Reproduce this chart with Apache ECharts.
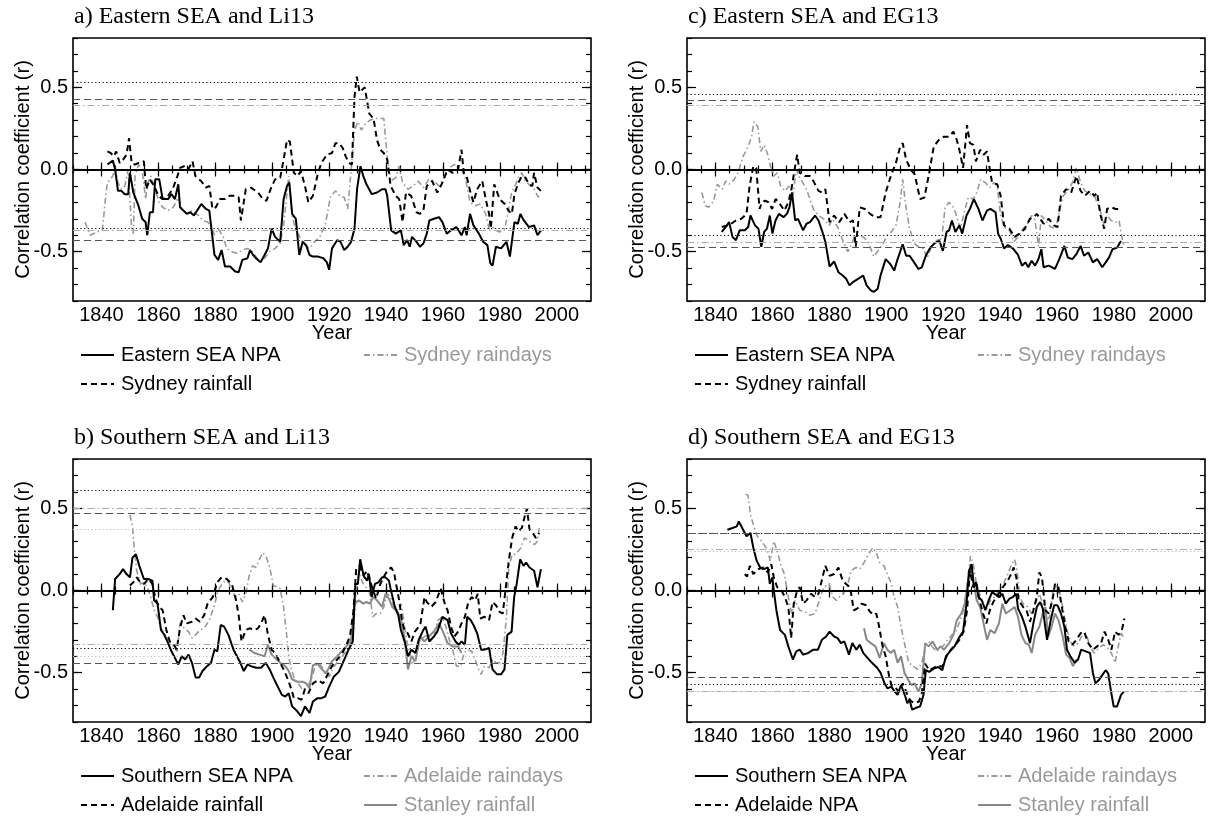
<!DOCTYPE html>
<html><head><meta charset="utf-8">
<script src="https://cdn.jsdelivr.net/npm/echarts@6/dist/echarts.min.js"></script>
<style>html,body{margin:0;padding:0;background:#fff}#c{width:1210px;height:816px}</style>
</head><body><div id="c"></div>
<script>
// ---- tick values ----
const xMajorTicks = [1840,1860,1880,1900,1920,1940,1960,1980,2000];
const xMinorTicks = [1830,1835,1840,1845,1850,1855,1860,1865,1870,1875,1880,1885,1890,1895,1900,1905,1910,1915,1920,1925,1930,1935,1940,1945,1950,1955,1960,1965,1970,1975,1980,1985,1990,1995,2000,2005,2010];
const yMajorTicks = [-0.5,0,0.5];
const yMinorTicks = [-0.8,-0.7,-0.6,-0.5,-0.4,-0.3,-0.2,-0.1,0,0.1,0.2,0.3,0.4,0.5,0.6,0.7,0.8];

// ---- panel titles ----
const panelTitles = ['a) Eastern SEA and Li13','c) Eastern SEA and EG13','b) Southern SEA and Li13','d) Southern SEA and EG13'];

// ---- significance thresholds [upper, lower] ----
const aSigNPA = [0.53,-0.36], aSigRain = [0.43,-0.43], aSigDays = [0.39,-0.37];
const cSigNPA = [0.46,-0.40], cSigRain = [0.42,-0.47], cSigDays = [0.39,-0.44];
const bSigNPA = [0.61,-0.35], bSigRain = [0.47,-0.44], bSigDays = [0.50,-0.33], bSigStanley = [0.37,-0.40];
const dSigNPA = [0.35,-0.575], dSigRain = [0.35,-0.53], dSigDays = [0.25,-0.61], dSigStanley = [0.24,-0.615];

// ---- panel a: Eastern SEA and Li13 ----
const aNPA = [[1842.1,0.03],[1844,0.055],[1844.8,0.0],[1845.8,-0.13],[1847,-0.13],[1848.2,-0.15],[1849.4,-0.15],[1850,-0.02],[1851.2,-0.14],[1853,-0.22],[1854.3,-0.30],[1855.5,-0.32],[1856.1,-0.40],[1857,-0.26],[1858.1,-0.26],[1858.9,-0.06],[1860.3,-0.06],[1861.5,-0.18],[1863.4,-0.18],[1864.6,-0.15],[1865.8,-0.18],[1867,-0.09],[1867.6,-0.23],[1870,-0.27],[1871.2,-0.26],[1872.5,-0.28],[1875.1,-0.21],[1876.7,-0.24],[1877.9,-0.25],[1879.7,-0.52],[1881,-0.55],[1882.2,-0.49],[1883.4,-0.59],[1885.2,-0.59],[1887,-0.62],[1888.2,-0.625],[1889.5,-0.55],[1891.3,-0.54],[1892.2,-0.49],[1893.3,-0.52],[1894.3,-0.54],[1895.9,-0.565],[1897.3,-0.52],[1898.5,-0.48],[1899.8,-0.36],[1901,-0.41],[1902.8,-0.44],[1904,-0.18],[1905.2,-0.10],[1906,-0.08],[1907,-0.27],[1908.3,-0.30],[1909.5,-0.52],[1910.7,-0.44],[1911.9,-0.46],[1913.1,-0.52],[1914.3,-0.53],[1916.1,-0.53],[1918,-0.54],[1919.2,-0.565],[1920,-0.61],[1921,-0.48],[1922.8,-0.43],[1924,-0.44],[1925.3,-0.49],[1926.5,-0.47],[1927.7,-0.44],[1928.9,-0.36],[1929.8,-0.12],[1931,0.02],[1932,-0.04],[1933.1,-0.09],[1935,-0.15],[1936.8,-0.14],[1938.6,-0.12],[1939.8,-0.12],[1940.4,-0.16],[1941.8,-0.37],[1943.4,-0.39],[1945.2,-0.37],[1946.2,-0.46],[1947.4,-0.43],[1948.3,-0.47],[1949.1,-0.41],[1950.7,-0.44],[1951.9,-0.47],[1953.1,-0.45],[1954.3,-0.39],[1955.2,-0.31],[1956.8,-0.30],[1958.6,-0.29],[1959.8,-0.32],[1961.3,-0.39],[1962.8,-0.37],[1964.7,-0.35],[1966.5,-0.40],[1967.7,-0.35],[1968.3,-0.40],[1969.5,-0.27],[1970.7,-0.34],[1972.6,-0.39],[1974.1,-0.44],[1975.6,-0.46],[1976.6,-0.57],[1977.4,-0.585],[1978.6,-0.47],[1980.4,-0.48],[1982.3,-0.44],[1983.5,-0.53],[1984.1,-0.54],[1985.1,-0.32],[1986.3,-0.33],[1987.2,-0.27],[1988.4,-0.31],[1990.2,-0.35],[1992,-0.34],[1993.2,-0.40],[1994.4,-0.37]];
const aRain = [[1842.1,0.11],[1843.3,0.10],[1844.3,0.08],[1845.2,0.11],[1846.4,0.04],[1847.6,0.06],[1848.8,0.09],[1849.7,0.19],[1850.6,0.04],[1851.8,0.03],[1853,0.04],[1854.9,0.05],[1855.7,-0.12],[1857,-0.06],[1858.5,-0.10],[1860,-0.16],[1861.5,-0.18],[1863,-0.17],[1865,-0.12],[1866.5,-0.05],[1867.6,0.01],[1869,0.02],[1870.5,0.0],[1872,0.05],[1873,-0.04],[1875,-0.07],[1876.7,-0.11],[1877.9,-0.10],[1879,-0.24],[1880.2,-0.23],[1881.6,-0.18],[1883.4,-0.18],[1885,-0.16],[1887,-0.16],[1888.2,-0.17],[1889,-0.31],[1890.7,-0.12],[1892.5,-0.11],[1895,-0.14],[1896.7,-0.18],[1898,-0.19],[1899.4,-0.12],[1901,-0.06],[1902.8,-0.05],[1904,0.06],[1905.2,0.18],[1906.2,0.17],[1907.6,-0.02],[1908.9,-0.04],[1910.1,-0.01],[1911.5,-0.10],[1912.7,-0.20],[1914.3,-0.16],[1916.1,-0.02],[1917.3,0.04],[1919.2,0.09],[1921,0.10],[1922.2,0.16],[1923.5,0.16],[1924.8,0.13],[1925.8,0.08],[1927,0.04],[1928,0.03],[1928.9,0.44],[1929.7,0.565],[1930.7,0.47],[1932.5,0.50],[1933.1,0.44],[1934.1,0.34],[1935.6,0.31],[1936.8,0.18],[1938,0.12],[1939.2,0.10],[1940.4,0.06],[1941.6,-0.10],[1943.4,-0.16],[1944.6,-0.18],[1945.8,-0.32],[1947,-0.14],[1948.8,-0.16],[1950.7,-0.26],[1951.9,-0.27],[1953.1,-0.25],[1954.3,-0.10],[1956.2,-0.07],[1958,-0.14],[1959.8,-0.08],[1961.6,0.0],[1963.4,-0.02],[1965.3,0.0],[1966.5,0.12],[1967.3,-0.02],[1968.3,-0.04],[1969.5,-0.13],[1970.7,-0.20],[1972,-0.12],[1973.8,-0.07],[1975,-0.18],[1976.2,-0.27],[1976.8,-0.36],[1978,-0.09],[1979.9,-0.18],[1981.7,-0.21],[1983,-0.25],[1984.2,-0.27],[1985.1,-0.15],[1986.5,-0.08],[1987.7,-0.04],[1989,-0.05],[1990.2,-0.09],[1991.4,-0.10],[1992,-0.02],[1993.2,-0.11],[1994.4,-0.13]];
const aDays = [[1834.2,-0.32],[1836,-0.40],[1838.5,-0.38],[1840.3,-0.37],[1841.5,-0.16],[1842.1,-0.08],[1844,-0.04],[1844.8,0.02],[1845.8,-0.08],[1847,-0.12],[1848.2,-0.10],[1849.4,0.0],[1850.6,-0.36],[1851.2,-0.39],[1851.8,-0.04],[1853,0.03],[1854.3,0.0],[1855.5,-0.18],[1856.1,-0.09],[1857.3,-0.04],[1858.5,-0.10],[1860.3,-0.20],[1861.5,-0.23],[1863.4,-0.25],[1865.2,-0.23],[1867,-0.17],[1868.2,-0.24],[1870,-0.27],[1871.8,-0.25],[1873.1,-0.27],[1874.3,-0.28],[1875.5,-0.31],[1877.3,-0.32],[1878.5,-0.34],[1879.7,-0.40],[1881,-0.36],[1882.8,-0.41],[1884,-0.48],[1885.8,-0.50],[1887.6,-0.51],[1889.5,-0.49],[1891.3,-0.48],[1892.5,-0.49],[1894.3,-0.53],[1895.5,-0.56],[1897.3,-0.54],[1899.1,-0.50],[1901,-0.48],[1902.8,-0.45],[1904,-0.34],[1905.8,-0.04],[1907,-0.28],[1908.3,-0.37],[1910,-0.42],[1911.5,-0.46],[1913.1,-0.48],[1914.9,-0.44],[1916.7,-0.41],[1918.6,-0.34],[1920.4,-0.17],[1922.2,-0.13],[1923.7,-0.16],[1925.3,-0.17],[1926.5,-0.24],[1927.7,-0.01],[1928.9,0.24],[1930.1,0.29],[1931.3,0.24],[1932.9,0.28],[1934.3,0.30],[1936.1,0.31],[1939.2,0.31],[1940.4,0.08],[1941.6,-0.07],[1943.4,-0.05],[1944.6,0.02],[1945.8,-0.08],[1947.7,-0.12],[1949.5,-0.10],[1951.3,-0.07],[1953.1,-0.11],[1955,-0.06],[1956.8,-0.07],[1958.6,-0.10],[1960.4,-0.05],[1962.2,0.01],[1964,0.03],[1965.8,0.02],[1967.7,-0.04],[1969.5,-0.20],[1971.3,-0.22],[1973.1,-0.21],[1975,-0.27],[1976.2,-0.36],[1977.4,-0.35],[1978.6,-0.37],[1979.9,-0.38],[1981.7,-0.36],[1982.9,-0.26],[1984.1,-0.14],[1985.3,-0.10],[1986.5,-0.05],[1987.7,-0.02],[1988.9,-0.07],[1990.2,-0.09],[1992,-0.12],[1993.2,-0.16],[1993.8,-0.17]];

// ---- panel c: Eastern SEA and EG13 ----
const cNPA = [[1842.2,-0.38],[1843.6,-0.35],[1844.8,-0.32],[1846,-0.41],[1847.2,-0.43],[1848.5,-0.37],[1850.3,-0.37],[1851.5,-0.35],[1852.3,-0.28],[1853.9,-0.34],[1855.1,-0.36],[1856.1,-0.47],[1857.1,-0.38],[1858.1,-0.36],[1859.1,-0.28],[1860,-0.39],[1861.1,-0.31],[1862.3,-0.27],[1863.9,-0.29],[1865.1,-0.27],[1866,-0.23],[1866.9,-0.14],[1868,-0.31],[1869,-0.30],[1870.8,-0.37],[1872,-0.33],[1873.2,-0.32],[1875,-0.28],[1876.2,-0.31],[1877.4,-0.37],[1878.6,-0.44],[1880.1,-0.59],[1881.7,-0.56],[1883.2,-0.625],[1884.7,-0.645],[1885.9,-0.665],[1887.1,-0.705],[1888.3,-0.685],[1890.1,-0.665],[1891.9,-0.645],[1893.1,-0.705],[1894.6,-0.735],[1895.6,-0.745],[1897,-0.725],[1898,-0.645],[1899.8,-0.545],[1901.4,-0.575],[1902.8,-0.615],[1904,-0.545],[1905.8,-0.455],[1907,-0.525],[1908.2,-0.525],[1909.8,-0.565],[1911.3,-0.605],[1912.5,-0.595],[1913.9,-0.525],[1915.5,-0.475],[1917.3,-0.445],[1918.7,-0.435],[1919.9,-0.495],[1921.2,-0.38],[1922.1,-0.37],[1923.1,-0.31],[1924.3,-0.38],[1925.7,-0.34],[1926.7,-0.39],[1928.2,-0.28],[1929.4,-0.24],[1930.8,-0.18],[1932.4,-0.24],[1933.8,-0.31],[1935.4,-0.25],[1936.6,-0.24],[1938.4,-0.26],[1939.3,-0.39],[1940.2,-0.42],[1941.4,-0.48],[1942.7,-0.46],[1944.5,-0.48],[1946.3,-0.52],[1947.7,-0.585],[1948.9,-0.565],[1949.9,-0.595],[1951.1,-0.555],[1952.3,-0.585],[1953.5,-0.545],[1954.5,-0.485],[1955.3,-0.595],[1957.1,-0.585],[1959.3,-0.605],[1960.8,-0.545],[1962.6,-0.465],[1963.8,-0.535],[1965.4,-0.545],[1966.8,-0.515],[1968.3,-0.465],[1969.5,-0.525],[1971,-0.505],[1972.6,-0.565],[1974.1,-0.545],[1975.9,-0.595],[1977.1,-0.565],[1978.3,-0.535],[1979.5,-0.485],[1981.1,-0.475],[1982.5,-0.435]];
const cRain = [[1842.2,-0.35],[1844.2,-0.34],[1845.5,-0.33],[1847.2,-0.31],[1849.1,-0.30],[1850.9,-0.27],[1852,-0.10],[1853.3,0.02],[1854.3,0.01],[1855.5,-0.24],[1856.3,-0.20],[1857.5,-0.19],[1858.7,-0.20],[1859.9,-0.24],[1861.1,-0.18],[1862.3,-0.20],[1864.2,-0.25],[1865.6,-0.20],[1866.6,-0.13],[1867.8,0.0],[1868.7,0.09],[1869.6,-0.02],[1871.4,-0.04],[1873.2,-0.04],[1874.4,-0.07],[1876.2,-0.13],[1877.4,-0.14],[1878.6,-0.12],[1880.1,-0.32],[1881.7,-0.28],[1883.5,-0.32],[1885.3,-0.27],[1887.1,-0.32],[1888.3,-0.31],[1889.3,-0.47],[1890.7,-0.23],[1892.5,-0.24],[1894.3,-0.27],[1896.2,-0.29],[1898,-0.29],[1899.8,-0.14],[1901.6,-0.04],[1903.4,0.04],[1904.9,0.14],[1905.8,0.16],[1907,0.06],[1908.6,0.0],[1910,-0.03],[1911.9,-0.18],[1913.4,-0.17],[1914.9,-0.04],[1916.7,0.14],[1918.5,0.18],[1920.3,0.20],[1922.1,0.20],[1923.6,0.23],[1924.8,0.18],[1925.7,0.12],[1927,0.01],[1928.4,0.27],[1929.4,0.16],[1930.6,0.15],[1931.5,0.05],[1933,0.12],[1934.2,0.09],[1935.4,0.11],[1936.4,0.0],[1937.2,-0.08],[1939,-0.09],[1940.2,-0.16],[1941.4,-0.34],[1943.3,-0.36],[1945.1,-0.41],[1946.9,-0.39],[1948.7,-0.36],[1950.5,-0.30],[1951.7,-0.29],[1952.9,-0.27],[1954.1,-0.30],[1955.3,-0.33],[1957.1,-0.30],[1958.9,-0.34],[1960.2,-0.35],[1961.4,-0.16],[1963.2,-0.12],[1965,-0.14],[1966.8,-0.04],[1968.3,-0.13],[1969.8,-0.16],[1971.6,-0.13],[1973.1,-0.16],[1974.1,-0.14],[1975.2,-0.27],[1976.6,-0.36],[1977.6,-0.24],[1979,-0.23],[1980.6,-0.24],[1982.5,-0.24]];
const cDays = [[1835.2,-0.14],[1836.4,-0.22],[1837.6,-0.23],[1839.4,-0.19],[1840.6,-0.09],[1842.4,-0.12],[1843.6,-0.07],[1844.8,-0.09],[1846.6,-0.06],[1847.9,-0.02],[1849.7,0.08],[1851.5,0.14],[1852.7,0.20],[1853.5,0.29],[1854.9,0.26],[1855.9,0.11],[1857.1,0.15],[1858.4,0.09],[1859.3,0.02],[1860.5,-0.04],[1861.7,-0.02],[1862.9,-0.10],[1864.4,-0.13],[1866,-0.10],[1867.2,-0.16],[1868.4,0.0],[1869.6,-0.05],[1871.4,-0.10],[1872.6,-0.15],[1874.4,-0.24],[1876.2,-0.28],[1878,-0.30],[1880,-0.34],[1881.1,-0.30],[1882.9,-0.35],[1884.7,-0.43],[1886.5,-0.50],[1887.7,-0.46],[1888.9,-0.41],[1890.5,-0.40],[1891.9,-0.41],[1893.7,-0.44],[1895.6,-0.53],[1897.4,-0.49],[1898.9,-0.45],[1900.4,-0.40],[1901.8,-0.38],[1903.4,-0.34],[1904.9,-0.20],[1905.8,-0.06],[1906.7,-0.20],[1908.2,-0.36],[1909.8,-0.45],[1911.3,-0.47],[1913.1,-0.48],[1914.3,-0.54],[1916.1,-0.46],[1917.9,-0.43],[1919.5,-0.42],[1920.7,-0.23],[1922.1,-0.20],[1923.3,-0.22],[1924.5,-0.27],[1926,-0.36],[1927.6,-0.25],[1928.8,-0.17],[1930.6,-0.18],[1931.8,-0.14],[1933.2,-0.06],[1934.8,-0.08],[1936.4,-0.11],[1937.8,-0.08],[1939,-0.10],[1940.2,-0.28],[1941.4,-0.35],[1943.3,-0.37],[1944.8,-0.44],[1946.3,-0.41],[1948.1,-0.36],[1949.3,-0.34],[1951.1,-0.28],[1952.3,-0.31],[1953.5,-0.47],[1954.5,-0.28],[1955.9,-0.31],[1957.8,-0.35],[1959.6,-0.36],[1960.8,-0.25],[1962.2,-0.16],[1963.8,-0.13],[1965.4,-0.08],[1966.8,0.01],[1968.3,-0.08],[1969.8,-0.13],[1971.6,-0.15],[1973.4,-0.17],[1975.2,-0.25],[1976.4,-0.33],[1977.6,-0.28],[1979,-0.31],[1980.6,-0.32],[1981.8,-0.31],[1983.1,-0.44],[1983.7,-0.47]];

// ---- panel b: Southern SEA and Li13 ----
const bNPA = [[1844,-0.12],[1844.8,0.07],[1846.4,0.10],[1847.6,0.13],[1848.8,0.10],[1850,0.08],[1850.9,0.20],[1852.1,0.22],[1853.3,0.15],[1854.9,0.07],[1856.4,0.07],[1857.9,0.06],[1858.5,-0.06],[1859.7,-0.08],[1860.9,-0.24],[1862.1,-0.27],[1863.4,-0.32],[1864.6,-0.37],[1865.8,-0.41],[1867,-0.45],[1868.2,-0.40],[1869.4,-0.42],[1870.6,-0.39],[1871.8,-0.44],[1873.1,-0.53],[1874.3,-0.53],[1875.5,-0.49],[1877.1,-0.46],[1878.5,-0.44],[1879.7,-0.36],[1880.7,-0.37],[1881.9,-0.21],[1883.1,-0.22],[1884.6,-0.27],[1886.4,-0.36],[1887.6,-0.40],[1888.8,-0.44],[1890,-0.49],[1891.3,-0.45],[1892.5,-0.46],[1894.3,-0.47],[1896.1,-0.47],[1897.7,-0.44],[1899.1,-0.48],[1900.4,-0.53],[1901.8,-0.58],[1903.4,-0.635],[1904.6,-0.645],[1905.8,-0.625],[1907,-0.705],[1908.8,-0.735],[1910.1,-0.765],[1911.5,-0.705],[1913.1,-0.745],[1914.3,-0.675],[1915.9,-0.655],[1917.3,-0.655],[1918.6,-0.645],[1920,-0.585],[1921.6,-0.525],[1923.4,-0.495],[1925.3,-0.42],[1926.8,-0.36],[1928.3,-0.31],[1929.2,0.04],[1930.1,0.04],[1930.9,0.19],[1932.1,0.09],[1933.3,0.06],[1934,0.10],[1934.9,-0.04],[1936.1,0.04],[1937.3,0.05],[1938.6,0.08],[1939.8,0.08],[1941,0.06],[1941.6,0.01],[1943.1,-0.10],[1944.3,-0.15],[1945.2,-0.24],[1946.7,-0.32],[1947.7,-0.40],[1948.9,-0.36],[1950.3,-0.38],[1951.5,-0.30],[1953.1,-0.24],[1953.9,-0.22],[1955.2,-0.31],[1956.8,-0.28],[1958,-0.25],[1959.8,-0.16],[1961.6,-0.18],[1962.8,-0.26],[1964.4,-0.31],[1965.6,-0.33],[1966.5,-0.31],[1967.7,-0.33],[1968.5,-0.16],[1969.7,-0.18],[1970.7,-0.21],[1972,-0.26],[1973.4,-0.36],[1974.6,-0.36],[1976.2,-0.35],[1977.4,-0.48],[1979,-0.51],[1980.4,-0.51],[1981.6,-0.48],[1982.6,-0.27],[1984.1,-0.25],[1985,-0.04],[1985.9,0.04],[1987.1,0.19],[1988.3,0.15],[1989.2,0.17],[1990.4,0.14],[1992,0.12],[1993.2,0.02],[1994.4,0.13]];
const bRain = [[1850,0.03],[1851.2,0.05],[1852.4,0.08],[1853.6,0.05],[1855,0.04],[1856.4,0.07],[1857.9,0.04],[1859,-0.05],[1860.3,-0.10],[1861.5,-0.12],[1862.8,-0.24],[1864,-0.31],[1865.2,-0.32],[1866.4,-0.36],[1867.6,-0.23],[1868.8,-0.15],[1870,-0.20],[1871.8,-0.19],[1873.1,-0.17],[1874.6,-0.19],[1876.1,-0.15],[1877.3,-0.08],[1879.1,-0.04],[1880.7,0.05],[1882.2,0.08],[1884,0.07],[1885.8,0.04],[1887.3,-0.06],[1888.2,-0.15],[1889.2,-0.31],[1890.7,-0.24],[1892.1,-0.23],[1893.7,-0.24],[1895,-0.23],[1896.1,-0.20],[1897.3,-0.15],[1898.5,-0.27],[1899.8,-0.36],[1901,-0.38],[1902.8,-0.44],[1904,-0.48],[1905.5,-0.54],[1906.7,-0.60],[1907.6,-0.655],[1909,-0.655],[1910.3,-0.665],[1911.5,-0.60],[1912.7,-0.625],[1914.3,-0.565],[1916.1,-0.545],[1917.9,-0.565],[1919.2,-0.52],[1921,-0.46],[1922.8,-0.42],[1924.4,-0.39],[1925.8,-0.34],[1927.3,-0.28],[1928.5,-0.13],[1929.5,0.13],[1930.7,0.15],[1932.1,0.09],[1933.3,0.12],[1934.9,0.03],[1936.5,-0.05],[1938,0.04],[1939.4,0.09],[1940.4,0.12],[1941.8,0.14],[1942.8,0.11],[1943.4,0.05],[1944.6,-0.06],[1945.5,-0.17],[1946.4,-0.24],[1947.6,-0.26],[1948.9,-0.31],[1950.1,-0.25],[1952,-0.21],[1953.5,-0.04],[1954.3,-0.07],[1955.9,-0.10],[1957.4,-0.07],[1959.2,0.01],[1960.8,-0.09],[1961.6,-0.12],[1962.8,-0.22],[1964,-0.28],[1965.3,-0.25],[1966.5,-0.20],[1967.7,-0.16],[1968.9,-0.07],[1970.1,-0.04],[1971.3,-0.06],[1972.2,-0.02],[1973.1,-0.17],[1974.6,-0.16],[1976.2,-0.18],[1977.4,-0.07],[1978.6,-0.09],[1979.9,-0.13],[1981,-0.14],[1982,0.01],[1983.1,0.18],[1984.3,0.32],[1985.5,0.39],[1986.5,0.36],[1987.7,0.38],[1988.7,0.45],[1989.5,0.50],[1990.4,0.37],[1991.6,0.35],[1992.6,0.32],[1993.8,0.35]];
const bDays = [[1850,0.46],[1850.9,0.39],[1851.6,0.24],[1852.4,0.12],[1853.7,0.04],[1854.9,0.05],[1856.1,0.02],[1857.3,-0.04],[1858.5,-0.12],[1859.7,-0.16],[1860.9,-0.23],[1862.1,-0.26],[1863.4,-0.30],[1865.2,-0.34],[1866.6,-0.37],[1867.6,-0.20],[1869.1,-0.23],[1870.6,-0.25],[1871.8,-0.29],[1873.1,-0.27],[1874.6,-0.24],[1876.1,-0.23],[1877.9,-0.18],[1879.7,-0.09],[1881,0.0],[1882.4,0.04],[1883.4,0.06],[1884.6,0.05],[1885.8,0.01],[1887,-0.04],[1888.2,-0.02],[1889.5,-0.07],[1890.7,-0.02],[1891.9,0.09],[1893.1,0.15],[1894.3,0.14],[1895.5,0.19],[1896.7,0.23],[1898,0.20],[1899.1,0.14],[1900.4,0.03],[1901.8,0.02],[1902.8,0.01],[1904,-0.10],[1905,-0.26],[1905.8,-0.40],[1906.7,-0.48],[1907.9,-0.54],[1909.1,-0.565],[1910.7,-0.605],[1912.2,-0.585],[1913.7,-0.545],[1915.2,-0.455],[1916.7,-0.445],[1918.6,-0.495],[1920,-0.525],[1921.6,-0.465],[1923.4,-0.425],[1925.3,-0.385],[1926.8,-0.35],[1928.3,-0.28],[1929.5,0.0],[1930.4,0.11],[1931.7,0.05],[1932.9,0.02],[1934.1,0.0],[1935.3,-0.16],[1936.5,-0.14],[1938,-0.14],[1939.2,-0.10],[1940.4,-0.02],[1941.6,-0.04],[1942.8,-0.10],[1944,-0.12],[1945.2,-0.08],[1946.4,-0.20],[1947.4,-0.32],[1948.3,-0.38],[1949.1,-0.45],[1950.7,-0.40],[1951.9,-0.30],[1953.5,-0.28],[1955,-0.27],[1956.8,-0.27],[1958.3,-0.18],[1959.8,-0.16],[1961,-0.22],[1962.2,-0.30],[1963.4,-0.36],[1964.7,-0.46],[1966.2,-0.46],[1967.4,-0.38],[1968.5,-0.36],[1970.1,-0.37],[1971.3,-0.42],[1972.5,-0.48],[1973.4,-0.51],[1974.6,-0.46],[1976.2,-0.47],[1977.4,-0.42],[1978.6,-0.44],[1979.9,-0.44],[1981.1,-0.38],[1982.3,-0.16],[1983.1,0.14],[1984.3,0.22],[1985.5,0.22],[1987.4,0.26],[1988.6,0.32],[1989.8,0.31],[1991,0.29],[1992.2,0.28],[1993.2,0.30],[1993.8,0.38]];
const bStanley = [[1892,-0.36],[1893.7,-0.38],[1895.5,-0.39],[1897.3,-0.40],[1898.5,-0.33],[1899.8,-0.39],[1901,-0.41],[1902.8,-0.44],[1904.6,-0.46],[1905.8,-0.49],[1907,-0.54],[1908.8,-0.555],[1910.7,-0.555],[1911.9,-0.565],[1913.1,-0.595],[1914.3,-0.455],[1915.9,-0.445],[1917.3,-0.475],[1918.8,-0.505],[1919.8,-0.475],[1921,-0.43],[1922.8,-0.40],[1924.4,-0.37],[1926.1,-0.34],[1927.7,-0.30],[1928.9,-0.08],[1930.4,-0.06],[1932,-0.08],[1933.1,-0.07],[1934.3,-0.08],[1935.5,-0.04],[1936.8,-0.06],[1938.6,-0.10],[1939.8,-0.02],[1941,-0.05],[1942.2,-0.10],[1944,-0.13],[1945.2,-0.17],[1946.4,-0.28],[1947.7,-0.48],[1948.9,-0.40],[1950.3,-0.43],[1951.9,-0.28],[1953.5,-0.31],[1955,-0.28],[1956.8,-0.25],[1958.6,-0.20],[1960,-0.25],[1961.6,-0.32],[1963.4,-0.34],[1965.3,-0.34],[1966.5,-0.38]];

// ---- panel d: Southern SEA and EG13 ----
const dNPA = [[1844.2,0.37],[1846,0.38],[1847.5,0.39],[1848.2,0.42],[1849.4,0.38],[1850.9,0.33],[1852.3,0.35],[1853.3,0.26],[1854.5,0.18],[1855.7,0.14],[1856.9,0.13],[1858.4,0.14],[1859.1,0.04],[1860,0.08],[1860.5,0.0],[1861.4,-0.12],[1862.7,-0.24],[1864.4,-0.27],[1865.6,-0.34],[1867.2,-0.42],[1868.4,-0.37],[1869.6,-0.36],[1870.8,-0.39],[1872.6,-0.38],[1874.4,-0.36],[1876,-0.36],[1877.4,-0.30],[1878.9,-0.28],[1880.1,-0.25],[1881.7,-0.28],[1882.9,-0.29],[1884.1,-0.32],[1885.3,-0.31],[1886.9,-0.39],[1888.1,-0.32],[1889.5,-0.36],[1890.7,-0.33],[1891.9,-0.38],[1893.4,-0.41],[1895,-0.44],[1896.8,-0.47],[1898,-0.50],[1899.4,-0.565],[1900.4,-0.595],[1901.8,-0.585],[1903,-0.615],[1904,-0.635],[1905.2,-0.575],[1906.7,-0.645],[1907.4,-0.685],[1908.2,-0.665],[1909.1,-0.725],[1910.3,-0.715],[1911.9,-0.705],[1913.1,-0.635],[1913.9,-0.485],[1915.1,-0.495],[1916.7,-0.475],[1918.3,-0.465],[1919.7,-0.485],[1921,-0.40],[1922.4,-0.37],[1924,-0.34],[1925.5,-0.29],[1927,-0.25],[1928.2,-0.08],[1929.1,0.12],[1930,0.16],[1930.8,0.02],[1931.6,0.05],[1932.4,-0.04],[1933.6,-0.06],[1934.8,-0.12],[1936,-0.06],[1937.2,-0.01],[1938.8,-0.03],[1939.6,-0.04],[1940.8,-0.02],[1942,-0.08],[1943.3,-0.05],[1944.5,-0.04],[1945.7,-0.02],[1946.3,-0.11],[1947.7,-0.16],[1948.9,-0.22],[1950.5,-0.32],[1951.7,-0.20],[1952.9,-0.10],[1954.1,-0.07],[1955,-0.11],[1956.5,-0.30],[1957.8,-0.18],[1959,-0.09],[1960.2,-0.09],[1961.4,-0.14],[1962.6,-0.22],[1963.5,-0.36],[1964.7,-0.40],[1966.2,-0.44],[1967.4,-0.42],[1968.5,-0.36],[1970.1,-0.37],[1971.6,-0.38],[1972.6,-0.50],[1973.5,-0.565],[1974.7,-0.545],[1975.9,-0.515],[1977.1,-0.485],[1978,-0.505],[1978.9,-0.605],[1979.9,-0.705],[1981.1,-0.705],[1982.5,-0.635],[1983.5,-0.615]];
const dAdel = [[1850.3,0.10],[1851.1,0.085],[1852.1,0.15],[1853.3,0.10],[1855.1,0.13],[1856.7,0.14],[1858.4,0.11],[1859.6,0.16],[1860.5,0.08],[1861.7,0.02],[1863.2,0.0],[1864.4,-0.04],[1865.6,-0.10],[1866.6,-0.29],[1867.5,-0.08],[1868.7,0.0],[1869.6,0.02],[1870.8,-0.08],[1872,-0.06],[1873.6,-0.02],[1875,-0.04],[1876.2,-0.02],[1877.2,0.05],[1878.6,0.15],[1880.1,0.09],[1881.7,0.10],[1883.2,0.14],[1884.7,0.06],[1885.9,0.04],[1887.3,0.02],[1888.6,-0.12],[1889.8,-0.11],[1891.3,-0.08],[1892.9,-0.09],[1894.3,-0.13],[1895.6,-0.15],[1896.5,-0.14],[1897.4,-0.21],[1898.6,-0.33],[1899.8,-0.40],[1901,-0.52],[1901.8,-0.575],[1903,-0.585],[1904.3,-0.615],[1905.8,-0.565],[1907,-0.615],[1907.9,-0.655],[1908.8,-0.675],[1910,-0.685],[1911.5,-0.675],[1912.5,-0.625],[1913.7,-0.445],[1915.1,-0.485],[1916.7,-0.47],[1918.3,-0.455],[1919.7,-0.465],[1921.2,-0.40],[1922.7,-0.36],[1924.3,-0.33],[1925.7,-0.30],[1927.2,-0.25],[1928.4,-0.12],[1929.4,0.12],[1930,0.13],[1930.6,0.02],[1931.6,0.05],[1932.8,-0.06],[1934,-0.14],[1935.2,-0.20],[1936.4,-0.12],[1937.6,-0.07],[1938.8,-0.04],[1940.2,0.0],[1941.4,0.03],[1942.7,0.06],[1943.9,0.10],[1944.8,0.14],[1945.7,0.08],[1946.5,-0.06],[1948.1,-0.10],[1949.3,-0.12],[1950.5,-0.19],[1951.7,-0.12],[1952.9,-0.04],[1953.8,0.11],[1954.7,0.08],[1955.9,-0.12],[1957.1,-0.14],[1958.4,-0.06],[1959.3,0.04],[1960.5,0.02],[1961.7,-0.10],[1962.9,-0.22],[1964.1,-0.31],[1965.4,-0.33],[1966.8,-0.30],[1968.3,-0.26],[1969.5,-0.25],[1971,-0.32],[1972.6,-0.36],[1974.1,-0.34],[1975.5,-0.32],[1976.7,-0.25],[1978,-0.30],[1979.1,-0.36],[1980.4,-0.25],[1981.6,-0.27],[1982.8,-0.24],[1983.7,-0.17]];
const dDays = [[1850.6,0.585],[1851.4,0.58],[1852.3,0.46],[1853.5,0.39],[1854.7,0.33],[1856.3,0.30],[1858.1,0.25],[1859.3,0.18],[1860.5,0.30],[1861.7,0.24],[1862.9,0.16],[1864.2,0.10],[1865.6,-0.04],[1866.8,-0.14],[1868,-0.06],[1869.6,-0.12],[1871.4,-0.13],[1873.2,-0.15],[1875,-0.14],[1876.5,-0.06],[1878,0.02],[1879.9,0.04],[1881.3,-0.04],[1882.5,-0.06],[1884.1,-0.03],[1885.9,0.0],[1887.7,0.12],[1889.3,0.14],[1890.7,0.13],[1892.2,0.17],[1893.7,0.22],[1895.3,0.26],[1896.5,0.23],[1897.7,0.17],[1899.2,0.15],[1900.4,0.10],[1901.6,0.05],[1902.8,-0.04],[1904,-0.10],[1905.2,-0.22],[1906.4,-0.32],[1907.9,-0.44],[1909.4,-0.46],[1911,-0.48],[1912.5,-0.44],[1913.7,-0.34],[1914.9,-0.31],[1916.1,-0.34],[1917.5,-0.37],[1918.7,-0.36],[1919.9,-0.34],[1921.5,-0.30],[1923.1,-0.27],[1924.5,-0.25],[1926,-0.18],[1927.2,-0.12],[1928.4,0.04],[1929.6,0.21],[1930.6,0.16],[1931.5,0.06],[1932.8,-0.02],[1934,-0.08],[1935.2,-0.12],[1936.6,-0.06],[1938.1,-0.04],[1939.6,0.0],[1941.2,0.04],[1942.7,0.10],[1944.1,0.16],[1945.1,0.19],[1946,0.12],[1946.9,-0.04],[1948.1,-0.08],[1949.7,-0.10],[1951.1,-0.14],[1952.6,-0.07],[1953.8,-0.02],[1955,-0.08],[1956.2,-0.18],[1957.4,-0.16],[1958.6,0.0],[1959.8,0.03],[1960.8,0.0],[1962,-0.10],[1963.5,-0.24],[1965,-0.32],[1966.2,-0.34],[1967.4,-0.32],[1968.6,-0.28],[1970.2,-0.26],[1971.6,-0.34],[1973.1,-0.38],[1974.7,-0.35],[1976.2,-0.33],[1977.8,-0.35],[1979.1,-0.38],[1980.4,-0.44],[1981.3,-0.36],[1982.5,-0.26],[1983.7,-0.29]];
const dStanley = [[1892.2,-0.23],[1893.1,-0.30],[1894.6,-0.32],[1896.2,-0.34],[1897.7,-0.41],[1899.2,-0.32],[1900.4,-0.36],[1901.6,-0.38],[1902.8,-0.36],[1904,-0.44],[1905.2,-0.40],[1906.4,-0.50],[1907.6,-0.54],[1908.8,-0.575],[1910,-0.565],[1911.3,-0.615],[1912.5,-0.565],[1913.7,-0.32],[1914.9,-0.34],[1916.3,-0.31],[1917.9,-0.36],[1919.1,-0.34],[1920.3,-0.36],[1922.1,-0.32],[1923.6,-0.27],[1924.8,-0.18],[1926.4,-0.14],[1927.6,-0.08],[1928.8,0.06],[1929.8,0.16],[1930.6,0.06],[1931.8,-0.06],[1933,-0.10],[1934.2,-0.20],[1935.4,-0.30],[1936.6,-0.24],[1938.1,-0.26],[1939.6,-0.20],[1940.8,-0.08],[1942,-0.14],[1943.6,-0.12],[1945.1,-0.10],[1946.3,-0.16],[1947.5,-0.27],[1948.9,-0.32],[1950.1,-0.33],[1951.1,-0.38],[1952.3,-0.27],[1953.8,-0.22],[1955,-0.14],[1955.9,-0.10],[1956.9,-0.28],[1958.1,-0.22],[1959.3,-0.14],[1960.5,-0.18],[1962,-0.28],[1963.2,-0.39],[1964.4,-0.41],[1965.6,-0.46],[1966.8,-0.42]];

// ---- styles ----
const FONT = 'Liberation Sans';
const ST = {
  npa:     {color:'#000', width:2,   type:'solid'},
  rain:    {color:'#000', width:2,   type:[6,4]},
  days:    {color:'#999', width:1.6, type:[6,3,1.5,3]},
  stanley: {color:'#888', width:2,   type:'solid'}
};
const REF = {
  npa:     {color:'#000', width:1, type:[1.2,2.5]},
  rain:    {color:'#555', width:1, type:[7,4]},
  days:    {color:'#aaa', width:1, type:[7,3,1.5,3]},
  stanley: {color:'#bbb', width:1, type:[1.2,2.5]}
};

const panels = [
  {left:73,  top:38,  title:panelTitles[0],
   lines:[['Eastern SEA NPA',aNPA,'npa',aSigNPA],['Sydney rainfall',aRain,'rain',aSigRain],['Sydney raindays',aDays,'days',aSigDays]],
   leg1:['Eastern SEA NPA','Sydney rainfall'], leg2:['Sydney raindays']},
  {left:687, top:38,  title:panelTitles[1],
   lines:[['Eastern SEA NPA',cNPA,'npa',cSigNPA],['Sydney rainfall',cRain,'rain',cSigRain],['Sydney raindays',cDays,'days',cSigDays]],
   leg1:['Eastern SEA NPA','Sydney rainfall'], leg2:['Sydney raindays']},
  {left:73,  top:459, title:panelTitles[2],
   lines:[['Southern SEA NPA',bNPA,'npa',bSigNPA],['Adelaide rainfall',bRain,'rain',bSigRain],['Adelaide raindays',bDays,'days',bSigDays],['Stanley rainfall',bStanley,'stanley',bSigStanley]],
   leg1:['Southern SEA NPA','Adelaide rainfall'], leg2:['Adelaide raindays','Stanley rainfall']},
  {left:687, top:459, title:panelTitles[3],
   lines:[['Southern SEA NPA',dNPA,'npa',dSigNPA],['Adelaide NPA',dAdel,'rain',dSigRain],['Adelaide raindays',dDays,'days',dSigDays],['Stanley rainfall',dStanley,'stanley',dSigStanley]],
   leg1:['Southern SEA NPA','Adelaide NPA'], leg2:['Adelaide raindays','Stanley rainfall']}
];

const W = 518, H = 263;
const grid = [], xAxis = [], yAxis = [], series = [], legend = [], title = [];
const grayNames = ['Sydney raindays','Adelaide raindays','Stanley rainfall'];

panels.forEach((p, i) => {
  grid.push({left:p.left, top:p.top, width:W, height:H, show:true, borderColor:'#000', borderWidth:1.6, backgroundColor:'transparent', outerBoundsMode:'none'});
  title.push({text:p.title, left:p.left+1, top:p.top-33, padding:0,
    textStyle:{fontFamily:'Liberation Serif', fontSize:24, fontWeight:'normal', color:'#000'}});
  const xb = {type:'value', gridIndex:i, min:1830, max:2012, splitLine:{show:false}, axisLine:{show:false}};
  xAxis.push(Object.assign({}, xb, {position:'bottom',
    name:'Year', nameLocation:'middle', nameGap:22, nameMoveOverlap:false,
    nameTextStyle:{fontFamily:FONT, fontSize:20, color:'#000'},
    axisTick:{show:true, inside:true, length:7, customValues:xMajorTicks, lineStyle:{color:'#000', width:1.2}},
    axisLabel:{show:true, customValues:xMajorTicks, margin:4, fontFamily:FONT, fontSize:20, color:'#000',
      formatter:v => String(Math.round(v))}}));
  xAxis.push(Object.assign({}, xb, {position:'bottom',
    axisTick:{show:true, inside:true, length:4, customValues:xMinorTicks, lineStyle:{color:'#000', width:1.2}},
    axisLabel:{show:false}}));
  xAxis.push(Object.assign({}, xb, {position:'top',
    axisTick:{show:true, inside:true, length:7, customValues:xMajorTicks, lineStyle:{color:'#000', width:1.2}},
    axisLabel:{show:false}}));
  xAxis.push(Object.assign({}, xb, {position:'top',
    axisTick:{show:true, inside:true, length:4, customValues:xMinorTicks, lineStyle:{color:'#000', width:1.2}},
    axisLabel:{show:false}}));
  const yb = {type:'value', gridIndex:i, min:-0.8, max:0.8, splitLine:{show:false}, axisLine:{show:false}};
  yAxis.push(Object.assign({}, yb, {position:'left',
    name:'Correlation coefficient (r)', nameLocation:'middle', nameGap:40, nameRotate:90, nameMoveOverlap:false,
    nameTextStyle:{fontFamily:FONT, fontSize:20, color:'#000'},
    axisTick:{show:true, inside:true, length:9, customValues:yMajorTicks, lineStyle:{color:'#000', width:1.2}},
    axisLabel:{show:true, customValues:yMajorTicks, margin:5, fontFamily:FONT, fontSize:20, color:'#000',
      formatter:v => v.toFixed(1)}}));
  yAxis.push(Object.assign({}, yb, {position:'left',
    axisTick:{show:true, inside:true, length:5, customValues:yMinorTicks, lineStyle:{color:'#000', width:1.2}},
    axisLabel:{show:false}}));
  yAxis.push(Object.assign({}, yb, {position:'right',
    axisTick:{show:true, inside:true, length:9, customValues:yMajorTicks, lineStyle:{color:'#000', width:1.2}},
    axisLabel:{show:false}}));
  yAxis.push(Object.assign({}, yb, {position:'right',
    axisTick:{show:true, inside:true, length:5, customValues:yMinorTicks, lineStyle:{color:'#000', width:1.2}},
    axisLabel:{show:false}}));

  // threshold lines + zero line
  const ml = [{yAxis:0, lineStyle:{color:'#000', width:2, type:'solid'}}];
  p.lines.forEach(l => {
    const r = REF[l[2]];
    l[3].forEach(v => ml.push({yAxis:v, lineStyle:{color:r.color, width:r.width, type:r.type}}));
  });
  series.push({type:'line', name:'_ref'+i, xAxisIndex:4*i, yAxisIndex:4*i, data:[], silent:true,
    markLine:{silent:true, symbol:['none','none'], label:{show:false}, animation:false, data:ml}});

  p.lines.slice().reverse().forEach(l => {
    const s = ST[l[2]];
    series.push({type:'line', name:l[0], xAxisIndex:4*i, yAxisIndex:4*i, data:l[1],
      symbol:'none', showSymbol:false, silent:true, animation:false, clip:true,
      lineStyle:{color:s.color, width:s.width, type:s.type}, itemStyle:{color:s.color}});
  });

  const legBase = {orient:'vertical', top:p.top+H+44, itemWidth:33, itemHeight:14, itemGap:9, padding:0,
    selectedMode:false,
    itemStyle:{color:'rgba(0,0,0,0)', borderColor:'rgba(0,0,0,0)', borderWidth:0, opacity:0},
    textStyle:{fontFamily:FONT, fontSize:20, color:'#000', padding:[0,0,0,2]}};
  legend.push(Object.assign({}, legBase, {left:p.left+7,
    data:p.leg1.map(n => ({name:n, textStyle:{color: grayNames.includes(n) ? '#999' : '#000'}}))}));
  legend.push(Object.assign({}, legBase, {left:p.left+290,
    data:p.leg2.map(n => ({name:n, textStyle:{color: grayNames.includes(n) ? '#999' : '#000'}}))}));
});

const chart = echarts.init(document.getElementById('c'), null, {renderer:'canvas'});
chart.setOption({animation:false, backgroundColor:'#fff', title, grid, xAxis, yAxis, series, legend, tooltip:{show:false}});
</script></body></html>
